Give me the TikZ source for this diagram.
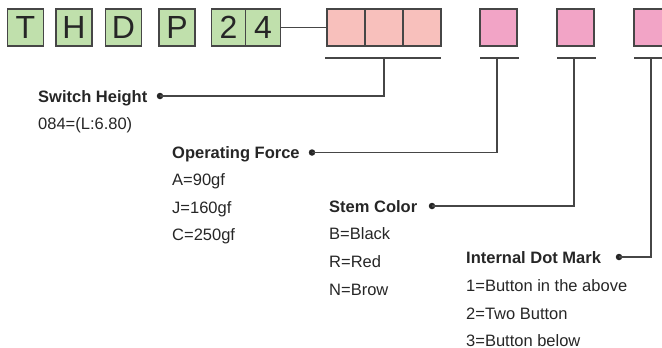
\documentclass[tikz,border=0pt]{standalone}
\usepackage{fontspec}
\setmainfont{Liberation Sans}
\usepackage{tikz}
\definecolor{codegreen}{RGB}{192,224,172}
\definecolor{heightpink}{RGB}{248,192,188}
\definecolor{optpink}{RGB}{242,164,198}
\definecolor{rulegray}{RGB}{70,70,70}
\tikzset{
  codebox/.style={draw=rulegray, line width=1.1pt, inner sep=0pt, minimum height=37pt,
    minimum width=36pt, font=\fontsize{32}{32}\selectfont, text=black!85},
  rule/.style={draw=rulegray, line width=1.2pt},
  title/.style={anchor=base west, inner sep=0pt, font=\fontsize{16.5}{18}\selectfont\bfseries, text=black!85},
  item/.style={anchor=base west, inner sep=0pt, font=\fontsize{16.5}{18}\selectfont, text=black!85},
  pin/.style={circle, fill=black!85, inner sep=0pt, minimum size=6.5pt}
}
\begin{document}
\begin{tikzpicture}[x=1pt, y=-1pt]
            \clip (0,0) rectangle (662,348);
            \node[codebox, fill=codegreen] (T) at (25.5,27.5) {T};
            \node[codebox, fill=codegreen] (H) at (74,27.5) {H};
            \node[codebox, fill=codegreen] (D) at (123.5,27.5) {D};
            \node[codebox, fill=codegreen] (P) at (177,27.5) {P};
            \node[codebox, fill=codegreen, minimum width=34.5pt] (N_2) at (228.5,27.5) {2};
            \node[codebox, fill=codegreen, minimum width=34.5pt] (N_4) at (263,27.5) {4};
            \node[codebox, fill=heightpink, minimum width=38pt] (S_1) at (346,27.5) {};
            \node[codebox, fill=heightpink, minimum width=38pt] (S_2) at (384,27.5) {};
            \node[codebox, fill=heightpink, minimum width=38pt] (S_3) at (422,27.5) {};
            \node[codebox, fill=optpink, minimum width=37pt] (F) at (498.5,27.5) {};
            \node[codebox, fill=optpink, minimum width=37pt] (C) at (575.5,27.5) {};
            \node[codebox, fill=optpink, minimum width=37pt] (M) at (652.5,27.5) {};
            \draw[rule] (N_4.east) -- (S_1.west);
            \coordinate (B_1) at (384,58);
            \coordinate (B_2) at (497,58);
            \coordinate (B_3) at (574,58);
            \coordinate (B_4) at (651,58);
            \draw[rule] (325,58) -- (441,58);
            \draw[rule] (480,58) -- (519,58);
            \draw[rule] (557,58) -- (596,58);
            \draw[rule] (634,58) -- (673,58);
            \node[title] (L_1) at (38,102) {Switch Height};
            \node[item] at (38,129) {084=(L:6.80)};
            \node[title] (L_2) at (172,158.5) {Operating Force};
            \node[item] at (172,185) {A=90gf};
            \node[item] at (172,213) {J=160gf};
            \node[item] at (172,240) {C=250gf};
            \node[title] (L_3) at (329,212) {Stem Color};
            \node[item] at (329,239) {B=Black};
            \node[item] at (329,267) {R=Red};
            \node[item] at (329,295) {N=Brow};
            \node[title] (L_4) at (466,263) {Internal Dot Mark};
            \node[item] at (466,291) {1=Button in the above};
            \node[item] at (466,319) {2=Two Button};
            \node[item] at (466,346) {3=Button below};
            \node[pin] (A_1) at (160,96) {};
            \node[pin] (A_2) at (312,152.5) {};
            \node[pin] (A_3) at (432,206) {};
            \node[pin] (A_4) at (619,257) {};
            \draw[rule] (A_1.center) -| (B_1);
            \draw[rule] (A_2.center) -| (B_2);
            \draw[rule] (A_3.center) -| (B_3);
            \draw[rule] (A_4.center) -| (B_4);
        \end{tikzpicture}
\end{document}
